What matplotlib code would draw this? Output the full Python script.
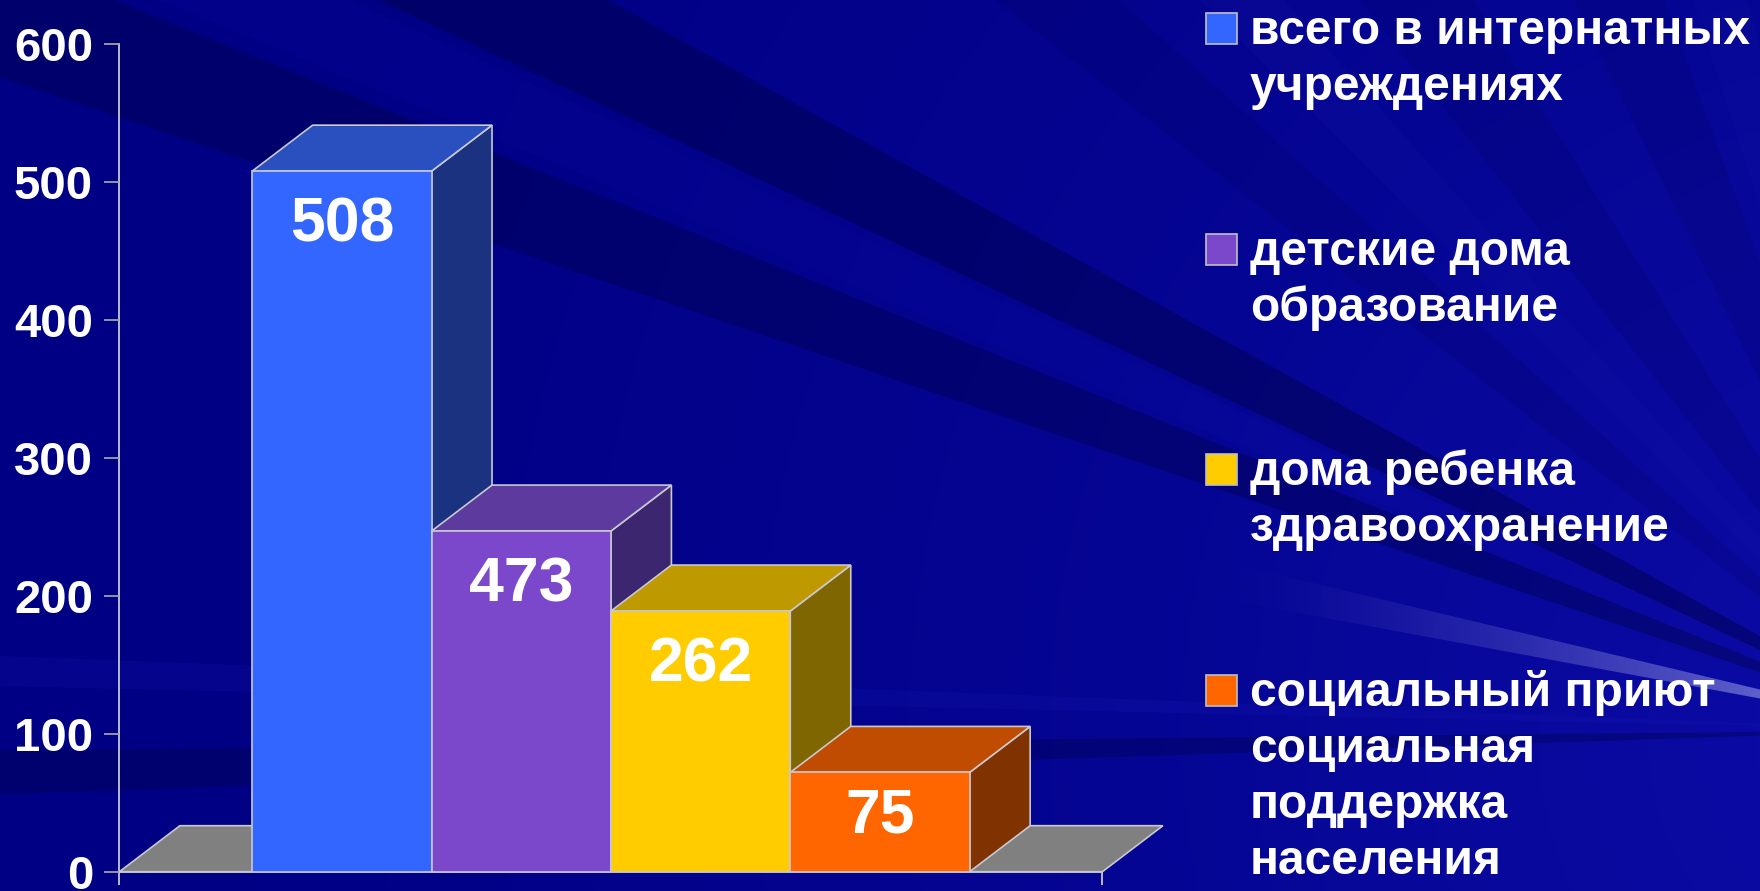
import numpy as np
import matplotlib
matplotlib.use("Agg")
import matplotlib.pyplot as plt
from matplotlib.patches import Polygon, Rectangle

plt.rcParams['font.family'] = ['Liberation Sans', 'DejaVu Sans']

# chart data
bar_values = [508, 247, 189, 72]          # drawn heights
bar_labels = ['508', '473', '262', '75']  # numbers printed on the bars
series = ['всего в интернатных\nучреждениях',
          'детские дома\nобразование',
          'дома ребенка\nздравоохранение',
          'социальный приют\nсоциальная\nподдержка\nнаселения']
y_ticks = [0, 100, 200, 300, 400, 500, 600]

front_colors = ['#3366ff', '#7b48cc', '#ffcc00', '#ff6600']
top_colors = ['#2a50c0', '#5c3a9e', '#bf9900', '#bf4c00']
side_colors = ['#1b3280', '#3d2670', '#806600', '#803300']
edge = '#c8c8d0'

W, H = 1760, 891
fig = plt.figure(figsize=(W / 100, H / 100), dpi=100)

# ---- background: dark blue with rays coming from the lower right
bg = fig.add_axes([0, 0, 1, 1])
bg.set_xlim(0, W)
bg.set_ylim(H, 0)
bg.axis('off')
fx, fy = 1930, 730
yy, xx = np.mgrid[0:H:4, 0:W:4]
d = np.hypot(xx - fx, yy - fy)
t = np.clip(1 - d / 1900, 0, 1) ** 1.5
img = np.dstack([0.05 * t, 0.05 * t, 0.52 + 0.14 * t])
bg.imshow(img, extent=(0, W, H, 0), interpolation='bilinear', aspect='auto', zorder=0)


def ray(a1, a2, r=2600):
    a1, a2 = np.radians(a1), np.radians(a2)
    return [(fx, fy),
            (fx - r * np.cos(a1), fy - r * np.sin(a1)),
            (fx - r * np.cos(a2), fy - r * np.sin(a2))]


bands = [(18.7, 21.9, '#000048', 0.40),
         (25.2, 28.9, '#000048', 0.45),
         (-1.9, -0.6, '#000048', 0.35),
         (1.3, 2.2, '#2020c0', 0.15),
         (22.4, 24.8, '#1010b0', 0.12),
         (38, 42, '#000050', 0.15),
         (45, 48.5, '#4040d0', 0.05),
         (52, 58, '#000050', 0.15),
         (64, 70, '#000050', 0.14),
         (72, 76, '#3030c8', 0.05)]
for a1, a2, c, al in bands:
    bg.add_patch(Polygon(ray(a1, a2), closed=True, facecolor=c,
                         edgecolor='none', alpha=al, zorder=1))

# bright streak, fading to the left
a = np.clip((xx - 1200) / 560, 0, 1) ** 1.6 * 0.6
glow = np.dstack([np.full_like(a, 0.6), np.full_like(a, 0.6), np.full_like(a, 0.9), a])
im = bg.imshow(glow, extent=(0, W, H, 0), interpolation='bilinear', aspect='auto', zorder=2)
clip = Polygon(ray(10.5, 13.4), closed=True, transform=bg.transData,
               facecolor='none', edgecolor='none')
bg.add_patch(clip)
im.set_clip_path(clip)

# ---- legend
sq = 31
leg_x_sq, leg_x_txt = 1206, 1250
leg_y0, leg_step, line_h = 28.3, 220.8, 56
for i, lab in enumerate(series):
    cy = leg_y0 + i * leg_step
    bg.add_patch(Rectangle((leg_x_sq, cy - sq / 2), sq, sq, facecolor=front_colors[i],
                           edgecolor='#c0c0c0', lw=1.2, zorder=5))
    for k, line in enumerate(lab.split('\n')):
        bg.text(leg_x_txt, cy + sq / 2 + k * line_h, line, fontsize=34.5,
                fontweight='bold', color='white', ha='left', va='baseline', zorder=6)

# ---- chart
x0_px, x1_px = 119.4, 1102.4
y0_px, y1_px = 871.7, 44.3
ax = fig.add_axes([x0_px / W, 1 - y0_px / H, (x1_px - x0_px) / W, (y0_px - y1_px) / H])
ax.patch.set_visible(False)

xs = np.arange(1, len(bar_values) + 1)
xmin, xmax = 0.5 - 0.74, len(bar_values) + 0.5 + 0.74
ax.set_xlim(xmin, xmax)
ax.set_ylim(0, 600)

px_x = (x1_px - x0_px) / (xmax - xmin)
px_y = (y0_px - y1_px) / 600
ddx, ddy = 60.5 / px_x, 46 / px_y

ax.add_patch(Polygon([(xmin, 0), (xmax, 0), (xmax + ddx, ddy), (xmin + ddx, ddy)],
                     closed=True, facecolor='#808080', edgecolor=edge, lw=1.2,
                     zorder=2, clip_on=False))

for i, (x, h) in enumerate(zip(xs, bar_values)):
    z = 3 + i
    l, r = x - 0.5, x + 0.5
    ax.add_patch(Polygon([(r, 0), (r + ddx, ddy), (r + ddx, h + ddy), (r, h)], closed=True,
                         facecolor=side_colors[i], edgecolor=edge, lw=1.2, zorder=z, clip_on=False))
    ax.add_patch(Polygon([(l, h), (r, h), (r + ddx, h + ddy), (l + ddx, h + ddy)], closed=True,
                         facecolor=top_colors[i], edgecolor=edge, lw=1.2, zorder=z, clip_on=False))
    ax.bar(x, h, width=1, color=front_colors[i], edgecolor=edge, linewidth=1.2, zorder=z)
    ax.text(x, max(h - 39, 0.56 * h), bar_labels[i], ha='center', va='center',
            fontsize=45, fontweight='bold', color='white', zorder=20)

for s in ['top', 'right']:
    ax.spines[s].set_visible(False)
for s in ['left', 'bottom']:
    ax.spines[s].set_color(edge)
    ax.spines[s].set_linewidth(1.3)
    ax.spines[s].set_zorder(1)

ax.set_yticks(y_ticks)
ax.tick_params(axis='y', length=11, width=1.3, color='#a0a0a8', labelsize=34,
               labelcolor='white', pad=8)
for lbl in ax.get_yticklabels():
    lbl.set_fontweight('bold')
ax.set_xticks([xmin, xmax])
ax.set_xticklabels([])
ax.tick_params(axis='x', length=9.5, width=1.3, color=edge)

fig.savefig('out.png', dpi=100)
